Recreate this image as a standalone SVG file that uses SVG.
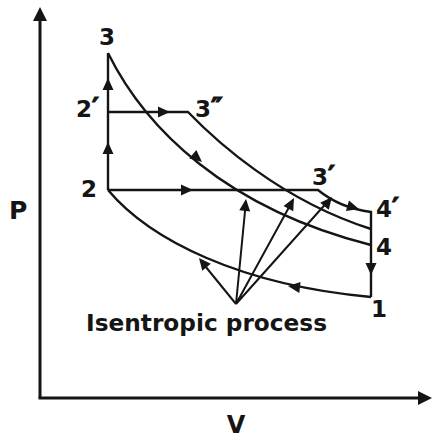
<svg xmlns="http://www.w3.org/2000/svg" width="432" height="438" viewBox="0 0 432 438">
<style>
.ln{fill:none;stroke:#151515;stroke-width:2.4;stroke-linejoin:miter}
.ax{fill:none;stroke:#151515;stroke-width:3}
.pt{fill:none;stroke:#151515;stroke-width:2}
.ah{fill:#151515}
text{font-family:"DejaVu Sans","Verdana",sans-serif;font-weight:bold;fill:#151515;font-size:23px}
.pr{stroke:#151515;stroke-width:1.2;font-size:26px}
</style>
<defs>
<path id="ar" d="M0,0 L-12,-5.5 L-12,5.5 Z" class="ah"/>
<path id="arb" d="M0,0 L-14,-7 L-14,7 Z" class="ah"/>
</defs>
<rect width="432" height="438" fill="#fff"/>
<g id="axes">
<line class="ax" x1="40" y1="20" x2="40" y2="398"/>
<line class="ax" x1="38.5" y1="398" x2="418" y2="398"/>
<use href="#arb" transform="translate(40,7) rotate(-90)"/>
<use href="#arb" transform="translate(432,398)"/>
</g>
<g id="connectors">
<path class="ln" d="M108,190 L108,53"/>
<path class="ln" d="M108,112 L188,112 C215,140 280,200 371,229"/>
<path class="ln" d="M108,190 L318,190 Q340,208 371,212 L371,297"/>
<path class="ln" d="M108,53 C145,128 225,208 371,245"/>
<path class="ln" d="M371,297 C240,285 150,240 108,190"/>
<path class="pt" d="M236,304 L201,261 M236,304 L246,201 M236,304 L293,200 M236,304 L330,199"/>
<use href="#ar" transform="translate(108,142) rotate(-90)"/>
<use href="#ar" transform="translate(108,78) rotate(-90)"/>
<use href="#ar" transform="translate(170,112)"/>
<use href="#ar" transform="translate(193,190)"/>
<use href="#ar" transform="translate(202,162) rotate(40)"/>
<use href="#ar" transform="translate(359,209) rotate(16)"/>
<use href="#ar" transform="translate(371,275) rotate(90)"/>
<use href="#ar" transform="translate(288,286) rotate(187)"/>
<use href="#ar" transform="translate(199,258) rotate(231)"/>
<use href="#ar" transform="translate(246,199) rotate(-84)"/>
<use href="#ar" transform="translate(294,198) rotate(-62)"/>
<use href="#ar" transform="translate(332,197) rotate(-51)"/>
</g>
<g id="n3"><text x="107" y="45" text-anchor="middle">3</text></g>
<g id="n2p"><text x="76" y="117">2<tspan class="pr">′</tspan></text></g>
<g id="n3pp"><text x="195" y="117">3<tspan class="pr">″</tspan></text></g>
<g id="n2"><text x="81" y="197">2</text></g>
<g id="n3p"><text x="312" y="185">3<tspan class="pr">′</tspan></text></g>
<g id="n4p"><text x="376" y="217">4<tspan class="pr">′</tspan></text></g>
<g id="n4"><text x="376" y="255">4</text></g>
<g id="n1"><text x="379" y="317" text-anchor="middle">1</text></g>
<g id="lblP"><text x="9" y="219" style="font-size:25px">P</text></g>
<g id="lblV"><text x="236" y="433" text-anchor="middle" style="font-size:24px">V</text></g>
<g id="lblIso"><text x="86" y="331" textLength="241" lengthAdjust="spacingAndGlyphs">Isentropic process</text></g>
</svg>
